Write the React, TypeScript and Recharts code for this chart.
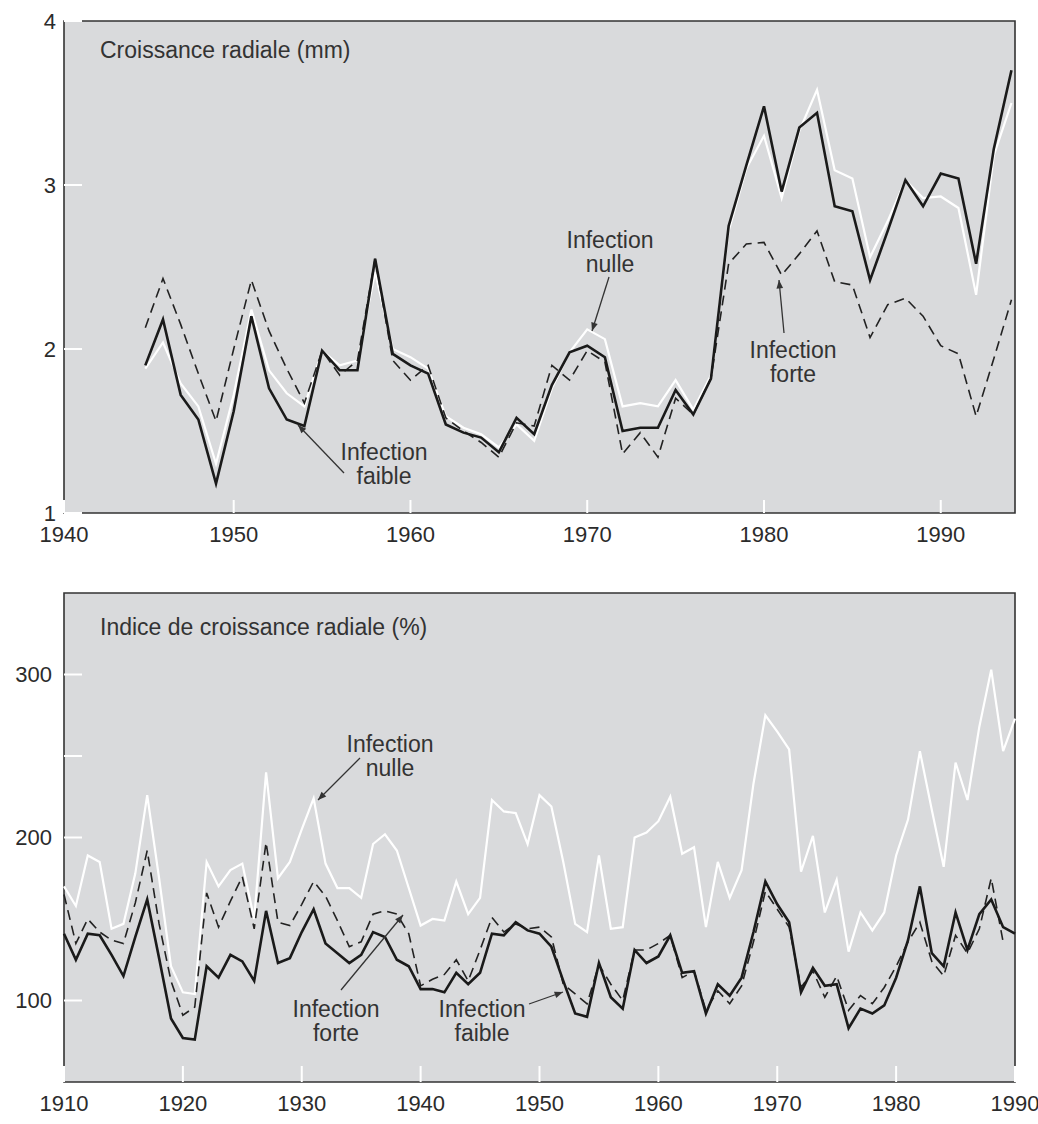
import { LineChart, Line, XAxis, YAxis, CartesianGrid, ReferenceArea } from "recharts"

const topYears = Array.from({ length: 50 }, (_, i) => 1945 + i)
const topNulle = [
  1.88, 2.04, 1.79, 1.65, 1.3, 1.72, 2.24, 1.87, 1.73, 1.65, 1.99, 1.9, 1.93, 2.47, 2.0, 1.95, 1.88, 1.59, 1.52, 1.48,
  1.4, 1.54, 1.44, 1.76, 1.98, 2.12, 2.06, 1.65, 1.67, 1.65, 1.81, 1.63, 1.84, 2.72, 3.1, 3.3, 2.92, 3.33, 3.58, 3.09,
  3.04, 2.56, 2.78, 3.03, 2.92, 2.93, 2.86, 2.33, 3.18, 3.5,
]
const topFaible = [
  1.9, 2.18, 1.72, 1.57, 1.18, 1.62, 2.2, 1.76, 1.57, 1.53, 1.99, 1.87, 1.87, 2.55, 1.97, 1.9, 1.85, 1.54, 1.49, 1.46,
  1.37, 1.58, 1.48, 1.78, 1.98, 2.02, 1.95, 1.5, 1.52, 1.52, 1.75, 1.6, 1.82, 2.75, 3.12, 3.48, 2.96, 3.35, 3.44, 2.87,
  2.84, 2.42, 2.72, 3.03, 2.87, 3.07, 3.04, 2.52, 3.22, 3.7,
]
const topForte = [
  2.13, 2.43, 2.15, 1.85, 1.56, 2.0, 2.42, 2.11, 1.88, 1.67, 1.99, 1.84, 1.93, 2.55, 1.93, 1.81, 1.9, 1.58, 1.5, 1.43,
  1.34, 1.55, 1.53, 1.9, 1.81, 1.99, 1.92, 1.36, 1.49, 1.34, 1.7, 1.6, 1.82, 2.52, 2.64, 2.65, 2.45, 2.58, 2.72, 2.41,
  2.39, 2.07, 2.27, 2.31, 2.2, 2.02, 1.97, 1.59, 1.94, 2.3,
]
const topXTicks = [1940.4, 1950, 1960, 1970, 1980, 1990]
const topYTicks = [1, 2, 3, 4]

const bottomYears = Array.from({ length: 81 }, (_, i) => 1910 + i)
const bottomNulle = [
  170, 158, 189, 185, 144, 147, 178, 226, 175, 121, 105, 104, 185, 170, 180, 184, 150, 240, 175, 185,
  205, 224, 184, 169, 169, 163, 196, 202, 192, 169, 146, 150, 149, 173, 153, 163, 223, 216, 215, 196,
  226, 219, 185, 147, 142, 189, 144, 145, 200, 203, 210, 225, 190, 194, 145, 185, 163, 180, 233, 275,
  265, 254, 179, 201, 154, 174, 130, 154, 143, 154, 189, 211, 253, 217, 182, 246, 223, 268, 303, 253,
  273,
]
const bottomFaible = [
  141, 125, 141, 140, 128, 115, 139, 162, 126, 89, 77, 76, 121, 114, 128, 124, 112, 155, 123, 126,
  142, 156, 135, 129, 123, 128, 142, 139, 125, 121, 107, 107, 105, 117, 110, 117, 141, 140, 148, 143,
  141, 133, 112, 92, 90, 123, 102, 95, 131, 123, 127, 140, 117, 118, 92, 110, 103, 114, 142, 173,
  159, 148, 105, 120, 109, 110, 83, 95, 92, 97, 114, 137, 170, 129, 121, 154, 131, 153, 162, 145,
  141,
]
const bottomForte = [
  165, 135, 150, 142, 137, 135, 160, 192, 147, 112, 91, 96, 166, 145, 161, 176, 144, 197, 148, 146,
  159, 173, 164, 149, 133, 136, 153, 155, 153, 141, 109, 113, 116, 125, 112, 131, 151, 142, 147, 144,
  145, 139, 110, 104, 98, 122, 110, 100, 131, 131, 135, 140, 114, 118, 94, 106, 98, 109, 136, 167,
  156, 145, 108, 118, 102, 115, 94, 103, 98, 108, 121, 136, 148, 124, 115, 140, 129, 144, 175, 136,
  null,
]
const bottomXTicks = [1910, 1920, 1930, 1940, 1950, 1960, 1970, 1980, 1990]
const bottomYTicks = [100, 200, 250, 300]
const bottomYLabels = [100, 200, 300]

const topData = topYears.map((year, i) => ({ year, nulle: topNulle[i], faible: topFaible[i], forte: topForte[i] }))
const bottomData = bottomYears.map((year, i) => ({
  year,
  nulle: bottomNulle[i],
  faible: bottomFaible[i],
  forte: bottomForte[i],
}))

const font = "'Liberation Sans', Arial, sans-serif"
const panelFill = "#d9dadc"
const textColor = "#2b2b2b"

function Series() {
  return [
    <Line key="n" dataKey="nulle" stroke="#ffffff" strokeWidth={2.2} dot={false} isAnimationActive={false} />,
    <Line
      key="fo"
      dataKey="forte"
      stroke="#222"
      strokeWidth={1.6}
      strokeDasharray="10 6"
      dot={false}
      connectNulls={false}
      isAnimationActive={false}
    />,
    <Line key="fa" dataKey="faible" stroke="#1a1a1a" strokeWidth={2.6} dot={false} isAnimationActive={false} />,
  ]
}

function Arrow({ x1, y1, x2, y2, head = true }) {
  const a = Math.atan2(y2 - y1, x2 - x1)
  const l = 9
  const w = 0.38
  return (
    <g stroke="#333" strokeWidth={1.3} fill="#333">
      <line x1={x1} y1={y1} x2={x2} y2={y2} />
      {head && (
        <polygon
          points={`${x2},${y2} ${x2 - l * Math.cos(a - w)},${y2 - l * Math.sin(a - w)} ${x2 - l * Math.cos(a + w)},${
            y2 - l * Math.sin(a + w)
          }`}
          stroke="none"
        />
      )}
    </g>
  )
}

function Note({ x, y, lines }) {
  return (
    <text x={x} y={y} textAnchor="middle" fontSize={23} fill="#333" fontFamily={font}>
      {lines.map((t, i) => (
        <tspan key={i} x={x} dy={i === 0 ? 0 : 24}>
          {t}
        </tspan>
      ))}
    </text>
  )
}

export default function App() {
  return (
    <div style={{ position: "absolute", left: 0, top: 0, width: 1038, height: 1124, background: "#fff" }}>
      <div style={{ position: "absolute", left: 0, top: 0 }}>
        <LineChart width={1038} height={560} data={topData} margin={{ top: 21, right: 23, bottom: 7, left: 8 }}>
          <CartesianGrid horizontal={false} vertical={false} fill={panelFill} fillOpacity={1} stroke="none" />
          <XAxis
            dataKey="year"
            type="number"
            domain={[1940.4, 1994.2]}
            ticks={topXTicks}
            tickFormatter={(v) => String(Math.floor(v))}
            interval={0}
            height={40}
            axisLine={false}
            tickSize={-13}
            tickMargin={26}
            tickLine={{ stroke: "#fff", strokeWidth: 2 }}
            tick={{ fill: textColor, fontSize: 22, fontFamily: font }}
          />
          <YAxis
            type="number"
            domain={[1, 4]}
            ticks={topYTicks}
            interval={0}
            width={56}
            axisLine={false}
            tickSize={-18}
            tickMargin={26}
            tickLine={{ stroke: "#fff", strokeWidth: 2 }}
            tick={{ fill: textColor, fontSize: 22, fontFamily: font }}
          />
          {Series()}
          <ReferenceArea x1={1940.4} x2={1994.2} y1={1} y2={4} fill="none" stroke="#333" strokeWidth={1.6} />
        </LineChart>
      </div>
      <div style={{ position: "absolute", left: 0, top: 560 }}>
        <LineChart width={1038} height={564} data={bottomData} margin={{ top: 33, right: 23, bottom: 7, left: 8 }}>
          <CartesianGrid horizontal={false} vertical={false} fill={panelFill} fillOpacity={1} stroke="none" />
          <XAxis
            dataKey="year"
            type="number"
            domain={[1910, 1990]}
            ticks={bottomXTicks}
            interval={0}
            height={35}
            axisLine={false}
            tickSize={-16}
            tickMargin={29}
            tickLine={{ stroke: "#fff", strokeWidth: 2 }}
            tick={{ fill: textColor, fontSize: 22, fontFamily: font }}
          />
          <YAxis
            type="number"
            domain={[50, 350]}
            ticks={bottomYTicks}
            tickFormatter={(v) => (bottomYLabels.includes(v) ? String(v) : "")}
            interval={0}
            width={56}
            axisLine={false}
            tickSize={-18}
            tickMargin={30}
            tickLine={{ stroke: "#fff", strokeWidth: 2 }}
            tick={{ fill: textColor, fontSize: 22, fontFamily: font }}
          />
          {Series()}
          <ReferenceArea x1={1910} x2={1990} y1={50} y2={350} fill="none" stroke="#333" strokeWidth={1.6} />
        </LineChart>
      </div>
      <svg
        width={1038}
        height={1124}
        style={{ position: "absolute", left: 0, top: 0, pointerEvents: "none" }}
      >
        <text x={100} y={58} fontSize={23} fill="#333" fontFamily={font}>
          Croissance radiale (mm)
        </text>
        <text x={100} y={635} fontSize={23} fill="#333" fontFamily={font}>
          Indice de croissance radiale (%)
        </text>

        <Note x={610} y={248} lines={["Infection", "nulle"]} />
        <Arrow x1={609} y1={277} x2={592} y2={331} />
        <Note x={384} y={460} lines={["Infection", "faible"]} />
        <Arrow x1={344} y1={473} x2={298} y2={425} />
        <Note x={793} y={358} lines={["Infection", "forte"]} />
        <Arrow x1={784} y1={333} x2={779} y2={280} />

        <Note x={390} y={752} lines={["Infection", "nulle"]} />
        <Arrow x1={360} y1={758} x2={318} y2={800} />
        <Note x={336} y={1017} lines={["Infection", "forte"]} />
        <Arrow x1={341} y1={990} x2={403} y2={915} />
        <Note x={482} y={1017} lines={["Infection", "faible"]} />
        <Arrow x1={529} y1={1004} x2={563} y2={992} />
      </svg>
    </div>
  )
}
